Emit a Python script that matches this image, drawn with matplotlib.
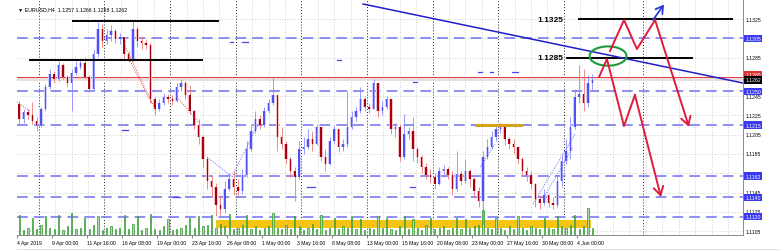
import matplotlib
matplotlib.use("Agg")
import matplotlib.pyplot as plt
from matplotlib.patches import Ellipse
import numpy as np

plt.rcParams["font.family"] = ["Liberation Sans", "DejaVu Sans"]

# ── EURUSD H4 candles (one candle drawn per two H4 bars) ───────────────
first_open = 1.1237
closes = [
    1.1221, 1.1229, 1.1225, 1.1219, 1.1215, 1.1232, 1.1254, 1.1268, 1.1263, 1.1277,
    1.1265, 1.1259, 1.1269, 1.1275, 1.1279, 1.1265, 1.1252, 1.1289, 1.1315, 1.1302,
    1.1308, 1.1313, 1.1304, 1.1306, 1.1289, 1.1284, 1.1315, 1.1302, 1.1300, 1.1298,
    1.1242, 1.1232, 1.1238, 1.1244, 1.1242, 1.1240, 1.1254, 1.1259, 1.1246, 1.1230,
    1.1215, 1.1203, 1.1180, 1.1157, 1.1151, 1.1132, 1.1128, 1.1149, 1.1159, 1.1151,
    1.1147, 1.1163, 1.1190, 1.1209, 1.1221, 1.1215, 1.1230, 1.1238, 1.1246, 1.1203,
    1.1195, 1.1180, 1.1167, 1.1161, 1.1190, 1.1192, 1.1201, 1.1195, 1.1213, 1.1182,
    1.1175, 1.1198, 1.1211, 1.1192, 1.1195, 1.1213, 1.1223, 1.1230, 1.1242, 1.1234,
    1.1232, 1.1259, 1.1230, 1.1234, 1.1242, 1.1211, 1.1213, 1.1182, 1.1206, 1.1209,
    1.1190, 1.1182, 1.1171, 1.1163, 1.1161, 1.1154, 1.1167, 1.1169, 1.1163, 1.1149,
    1.1164, 1.1157, 1.1167, 1.1159, 1.1147, 1.1136, 1.1182, 1.1192, 1.1203, 1.1211,
    1.1213, 1.1201, 1.1195, 1.1192, 1.1180, 1.1167, 1.1163, 1.1154, 1.1138, 1.1134,
    1.1142, 1.1134, 1.1132, 1.1157, 1.1178, 1.1188, 1.1213, 1.1244, 1.1247, 1.1238,
    1.1259, 1.1262,
]
highs = [
    1.1240, 1.1232, 1.1232, 1.1239, 1.1223, 1.1234, 1.1258, 1.1273, 1.1271, 1.1281,
    1.1279, 1.1267, 1.1273, 1.1281, 1.1284, 1.1286, 1.1267, 1.1294, 1.1322, 1.1320,
    1.1315, 1.1319, 1.1315, 1.1311, 1.1306, 1.1292, 1.1324, 1.1317, 1.1306, 1.1304,
    1.1300, 1.1244, 1.1242, 1.1248, 1.1247, 1.1246, 1.1259, 1.1263, 1.1261, 1.1257,
    1.1232, 1.1221, 1.1205, 1.1182, 1.1163, 1.1155, 1.1142, 1.1157, 1.1165, 1.1167,
    1.1159, 1.1169, 1.1198, 1.1216, 1.1230, 1.1225, 1.1234, 1.1242, 1.1265, 1.1246,
    1.1213, 1.1198, 1.1182, 1.1171, 1.1198, 1.1203, 1.1211, 1.1209, 1.1216, 1.1213,
    1.1190, 1.1203, 1.1215, 1.1211, 1.1201, 1.1250, 1.1230, 1.1234, 1.1254, 1.1244,
    1.1238, 1.1263, 1.1259, 1.1240, 1.1245, 1.1242, 1.1217, 1.1216, 1.1226, 1.1213,
    1.1223, 1.1192, 1.1184, 1.1176, 1.1169, 1.1165, 1.1171, 1.1174, 1.1171, 1.1167,
    1.1188, 1.1167, 1.1180, 1.1169, 1.1161, 1.1151, 1.1188, 1.1201, 1.1209, 1.1215,
    1.1217, 1.1215, 1.1203, 1.1201, 1.1192, 1.1182, 1.1171, 1.1167, 1.1155, 1.1142,
    1.1149, 1.1143, 1.1140, 1.1163, 1.1185, 1.1201, 1.1223, 1.1252, 1.1277, 1.1273,
    1.1267, 1.1268,
]
lows = [
    1.1215, 1.1217, 1.1221, 1.1216, 1.1209, 1.1213, 1.1230, 1.1252, 1.1259, 1.1261,
    1.1263, 1.1254, 1.1230, 1.1267, 1.1273, 1.1263, 1.1249, 1.1250, 1.1286, 1.1296,
    1.1299, 1.1302, 1.1300, 1.1299, 1.1281, 1.1280, 1.1281, 1.1296, 1.1294, 1.1294,
    1.1238, 1.1225, 1.1230, 1.1236, 1.1238, 1.1236, 1.1239, 1.1250, 1.1242, 1.1226,
    1.1211, 1.1195, 1.1171, 1.1149, 1.1140, 1.1121, 1.1122, 1.1124, 1.1147, 1.1142,
    1.1142, 1.1143, 1.1161, 1.1188, 1.1207, 1.1211, 1.1213, 1.1227, 1.1236, 1.1188,
    1.1190, 1.1175, 1.1161, 1.1136, 1.1159, 1.1185, 1.1190, 1.1188, 1.1194, 1.1178,
    1.1167, 1.1174, 1.1195, 1.1187, 1.1188, 1.1192, 1.1211, 1.1219, 1.1227, 1.1230,
    1.1227, 1.1232, 1.1223, 1.1225, 1.1232, 1.1206, 1.1203, 1.1178, 1.1180, 1.1201,
    1.1178, 1.1176, 1.1165, 1.1159, 1.1155, 1.1149, 1.1153, 1.1161, 1.1159, 1.1142,
    1.1147, 1.1153, 1.1155, 1.1151, 1.1140, 1.1130, 1.1112, 1.1180, 1.1190, 1.1198,
    1.1207, 1.1194, 1.1190, 1.1185, 1.1175, 1.1163, 1.1157, 1.1149, 1.1130, 1.1128,
    1.1132, 1.1130, 1.1128, 1.1130, 1.1151, 1.1175, 1.1180, 1.1211, 1.1238, 1.1230,
    1.1234, 1.1250,
]
volumes = [
    16, 4, 6, 14, 5, 8, 15, 6, 5, 16,
    4, 7, 18, 5, 6, 14, 5, 8, 15, 4,
    6, 7, 5, 6, 16, 5, 9, 15, 4, 6,
    17, 5, 4, 7, 13, 4, 5, 6, 8, 14,
    6, 15, 7, 8, 16, 6, 9, 7, 17, 5,
    6, 8, 16, 5, 7, 4, 6, 7, 18, 6,
    5, 8, 5, 15, 7, 4, 6, 9, 5, 16,
    4, 6, 14, 5, 7, 6, 15, 5, 13, 4,
    6, 5, 15, 6, 14, 5, 4, 7, 15, 5,
    13, 6, 4, 8, 14, 5, 6, 7, 4, 6,
    14, 5, 13, 6, 7, 8, 20, 6, 5, 14,
    6, 4, 7, 5, 15, 6, 4, 7, 6, 5,
    14, 6, 5, 15, 7, 6, 8, 16, 5, 7,
    22, 6,
]
date_labels = ["4 Apr 2019", "9 Apr 00:00", "11 Apr 16:00", "16 Apr 08:00",
               "19 Apr 00:00", "23 Apr 16:00", "26 Apr 08:00", "1 May 00:00",
               "3 May 16:00", "8 May 08:00", "13 May 00:00", "15 May 16:00",
               "20 May 08:00", "23 May 00:00", "27 May 16:00", "30 May 08:00",
               "4 Jun 00:00"]
price_ticks = [1.1105, 1.1125, 1.1145, 1.1165, 1.1185, 1.1205, 1.1225,
               1.1245, 1.1265, 1.1285, 1.1305, 1.1325]
hidden_ticks = [1.1305, 1.1265, 1.1165]      # covered by the level boxes
blue_levels = [1.1305, 1.1250, 1.1215, 1.1162, 1.1140, 1.1120]
bid, ask = 1.1262, 1.1265
header = "▼ EURUSD,H4  1.1257 1.1266 1.1258 1.1262"

# hand-drawn objects, in (H4 bar index, price)
black_levels = [((25.6, 91.9), 1.1323), ((5.9, 84.6), 1.1283),
                ((256.9, 326.9), 1.1325), ((251.4, 308.6), 1.1285)]
target_texts = [(249.6, 1.1325, "1.1325"), (249.6, 1.1285, "1.1285")]
trend_line = [(158.2, 1.13406), (331.9, 1.12586)]
circle = (270.2, 1.12866, 16.9, 0.0020)
red_path_down = [(266.1, 1.12649), (269.7, 1.12835), (277.5, 1.12140),
                 (282.5, 1.12462), (294.4, 1.11403)]
red_path_up = [(271.1, 1.12918), (277.5, 1.13240), (283.4, 1.12939),
               (291.7, 1.13240), (307.2, 1.12130)]
blue_arrow = [(290.7, 1.13240), (295.8, 1.13400)]
yellow_zone = ((91.0, 262.4), 1.11081, 1.11164)
gold_mark = ((209.8, 230.4), 1.1215)
future_separator = 286
trade_lines = [
    ((49.4, 1.12970), (63.1, 1.12316), "#e05050"),
    ((51.7, 1.12815), (61.7, 1.12368), "#e05050"),
    ((73.1, 1.12441), (84.6, 1.12140), "#e05050"),
    ((0.0, 1.12389), (5.9, 1.12296), "#6060ff"),
    ((86.9, 1.11818), (98.3, 1.11611), "#6060ff"),
    ((98.3, 1.11611), (110.2, 1.12161), "#6060ff"),
    ((211.7, 1.11715), (218.5, 1.11953), "#6060ff"),
    ((235.9, 1.11331), (255.1, 1.12057), "#6060ff"),
    ((240.5, 1.11382), (254.2, 1.11922), "#6060ff"),
]
order_marks = [((97.4, 98.7), 1.1301), ((102.9, 105.6), 1.1301),
               ((146.3, 148.1), 1.1282), ((181.0, 182.9), 1.1260),
               ((210.7, 212.6), 1.1270), ((216.2, 217.6), 1.1270),
               ((226.3, 229.0), 1.1270), ((48.0, 50.7), 1.1210),
               ((71.3, 74.5), 1.1140), ((132.6, 136.2), 1.1151),
               ((179.7, 181.9), 1.1151)]

# ── figure ─────────────────────────────────────────────────────────────
fig = plt.figure(figsize=(7.79, 2.53), dpi=100)
ax = fig.add_axes([17 / 779, 17 / 253, 726 / 779, 236 / 253])
ax.set_xlim(0, 331.9)
ax.set_ylim(1.11009, 1.13458)

# grid
for p in price_ticks:
    ax.axhline(p, color="#c4c4c4", lw=0.6, ls=(0, (1, 2)), zorder=0)
xs = np.arange(len(closes)) * 2 + 1
last_bar = xs[-1] + 1
for b in np.arange(10, 332, 7.5):
    weekly = (b - 10) % 30 == 0 and b < last_bar
    ax.axvline(b, color="#222222" if weekly else "#c4c4c4",
               lw=0.7 if weekly else 0.6, ls=(0, (1, 2)), zorder=0)
ax.axvline(future_separator, color="#222222", lw=0.7, ls=(0, (1, 2)), zorder=0)

# levels
for p in blue_levels:
    ax.axhline(p, color="#6f6ff2", lw=1.1, ls=(0, (7, 4)), zorder=1)
ax.axhspan(bid - 0.0001, ask, color="#eadede", lw=0, zorder=0.5)
ax.axhline(ask, color="#e03c3c", lw=0.7, zorder=1)

# yellow zone + volume
(x0, x1), lo, hi = yellow_zone
ax.fill_between([x0, x1], lo, hi, color="#f6c412", lw=0, zorder=1)
vol_trans = ax.get_xaxis_transform()
ax.bar(xs, np.array(volumes) / 190, width=0.6, bottom=0, transform=vol_trans,
       color="#a8dca8", edgecolor="#2f942f", lw=0.5, zorder=1.5)

# candles
opens = [first_open] + closes[:-1]
for x, o, h, l, c in zip(xs, opens, highs, lows, closes):
    up = c >= o
    wick = "#8a8aff" if up else "#e87a7a"
    body = "#5252f2" if up else "#a80010"
    shade = "#cfcfff" if up else "#f7c2c2"
    ax.bar(x, max(abs(c - o), 0.00006), bottom=min(o, c), width=1.5,
           color=shade, lw=0, zorder=2)
    ax.vlines(x, min(l, o, c), max(h, o, c), color=wick, lw=0.6, zorder=2.5)
    ax.bar(x, max(abs(c - o), 0.00004), bottom=min(o, c), width=0.7,
           color=body, lw=0, zorder=3)

# trade history lines and order marks
for (a, b, col) in trade_lines:
    ax.plot([a[0], b[0]], [a[1], b[1]], color=col, lw=0.7, ls=(0, (1, 1.5)),
            zorder=3.5)
for (bx0, bx1), p in order_marks:
    ax.plot([bx0, bx1], [p, p], color="#4848e8", lw=0.9, zorder=3.5)
(gx0, gx1), gp = gold_mark
ax.plot([gx0, gx1], [gp, gp], color="#d6a21c", lw=2.2, zorder=3.5)

# drawn analysis
for (bx0, bx1), p in black_levels:
    ax.plot([bx0, bx1], [p, p], color="black", lw=1.4, zorder=4)
for bx, p, t in target_texts:
    ax.text(bx, p, t, ha="right", va="center", fontsize=6, fontweight="bold",
            zorder=5)
ax.plot(*zip(*trend_line), color="#1f1fc8", lw=1.1, zorder=4)
cx, cy, cw, ch = circle
ax.add_patch(Ellipse((cx, cy), cw, ch, fill=False, ec="#1a9a3c", lw=1.5,
                     zorder=5))
for path in (red_path_down, red_path_up):
    ax.plot(*zip(*path[:-1]), color="#e01c3c", lw=1.4, zorder=5)
    ax.annotate("", xy=path[-1], xytext=path[-2],
                arrowprops=dict(arrowstyle="->,head_length=0.6,head_width=0.35",
                                color="#e01c3c", lw=1.4, shrinkA=0, shrinkB=0),
                zorder=5)
ax.annotate("", xy=blue_arrow[1], xytext=blue_arrow[0],
            arrowprops=dict(arrowstyle="->,head_length=0.5,head_width=0.3",
                            color="#2a3ad0", lw=1.3, shrinkA=0, shrinkB=0),
            zorder=5)

# header
ax.text(0.0015, 0.958, header, transform=ax.transAxes, fontsize=3.8,
        va="center", ha="left")

# axes frame and ticks
ax.spines["left"].set_visible(False)
ax.spines["top"].set_color("#555555")
ax.spines["right"].set_color("#8a8a8a")
ax.spines["bottom"].set_color("#8a8a8a")
for s in ("top", "right", "bottom"):
    ax.spines[s].set_linewidth(0.7)
ax.set_yticks([])
ax.set_xticks(np.arange(len(date_labels)) * 16)
ax.set_xticklabels(date_labels, fontsize=3.7, ha="left")
ax.tick_params(axis="x", length=2, width=0.5, pad=1.5, color="#555555")

ytr = ax.get_yaxis_transform()
for p in price_ticks:
    if p in hidden_ticks:
        continue
    ax.text(1.004, p, f"{p:.4f}", transform=ytr, fontsize=3.7, va="center",
            ha="left", clip_on=False)
for p in blue_levels:
    ax.text(1.003, p, f"{p:.4f}", transform=ytr, fontsize=3.7, va="center",
            ha="left", color="white", clip_on=False, zorder=6,
            bbox=dict(boxstyle="square,pad=0.25", fc="#3a3af5", ec="none"))
ax.text(1.003, ask + 0.0002, f"{ask:.4f}", transform=ytr, fontsize=3.7,
        va="center", ha="left", color="white", clip_on=False, zorder=6,
        bbox=dict(boxstyle="square,pad=0.25", fc="#e03030", ec="none"))
ax.text(1.003, bid, f"{bid:.4f}", transform=ytr, fontsize=3.7, va="center",
        ha="left", color="white", clip_on=False, zorder=7,
        bbox=dict(boxstyle="square,pad=0.25", fc="black", ec="none"))

fig.add_artist(plt.Line2D([17 / 779, 1], [3 / 253, 3 / 253],
                          color="#dddddd", lw=0.6))

fig.savefig("out.png", dpi=100)
